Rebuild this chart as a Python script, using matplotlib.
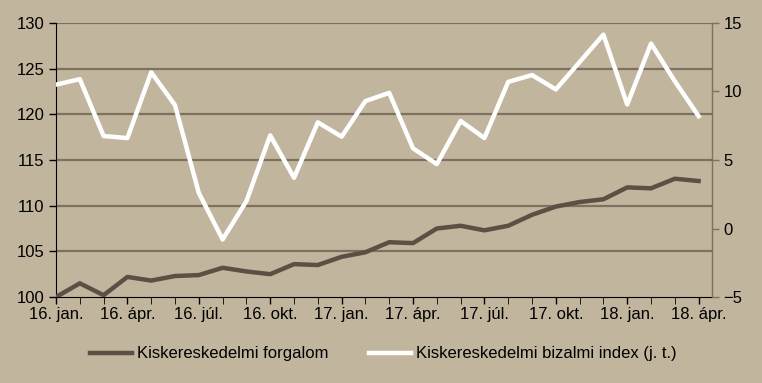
import matplotlib.pyplot as plt

plt.rcParams['font.family'] = ['Liberation Sans', 'DejaVu Sans']

months = ['jan.', 'febr.', 'márc.', 'ápr.', 'máj.', 'jún.', 'júl.', 'aug.', 'szept.', 'okt.', 'nov.', 'dec.']
periods = [f'{y}. {m}' for y in (16, 17, 18) for m in months][:28]

forgalom = [100.0, 101.5, 100.2, 102.2, 101.8, 102.3, 102.4, 103.2, 102.8, 102.5,
            103.6, 103.5, 104.4, 104.9, 106.0, 105.9, 107.5, 107.8, 107.3, 107.8,
            109.0, 109.9, 110.4, 110.7, 112.0, 111.9, 112.95, 112.7]
bizalmi = [10.5, 10.9, 6.75, 6.6, 11.4, 9.0, 2.6, -0.8, 2.0, 6.8,
           3.7, 7.75, 6.7, 9.3, 9.9, 5.85, 4.7, 7.85, 6.6, 10.7,
           11.2, 10.15, 12.15, 14.15, 9.05, 13.5, 10.75, 8.2]

bg = '#C2B59D'
brown = '#5E4F45'
grid_c = '#7D7262'

fig = plt.figure(figsize=(7.62, 3.83), dpi=100, facecolor=bg)
ax = fig.add_axes([0.0735, 0.2245, 0.8605, 0.7155], facecolor=bg)
ax2 = ax.twinx()

x = list(range(len(periods)))
l1, = ax.plot(x, forgalom, color=brown, lw=3.2, label='Kiskereskedelmi forgalom', zorder=3)
l2, = ax2.plot(x, bizalmi, color='white', lw=3.2, label='Kiskereskedelmi bizalmi index (j. t.)', zorder=3)

ax.set_xlim(0, 27.55)
ax.set_ylim(100, 130)
ax2.set_ylim(-5, 15)
ax.set_yticks(range(100, 131, 5))
ax2.set_yticks(range(-5, 16, 5))
ax.set_xticks(x, minor=True)
ax.set_xticks(x[::3])
ax.set_xticklabels(periods[::3])

for y in range(105, 131, 5):
    ax.axhline(y, color=grid_c, lw=1.6, zorder=1)

for a in (ax, ax2):
    a.spines['top'].set_visible(False)
    a.tick_params(labelcolor='#000000', labelsize=12, length=5, width=1)
ax.tick_params(axis='x', which='both', length=5, color='#000000', pad=2)
ax.tick_params(axis='y', color='#000000')
ax.spines['bottom'].set_color('#000000')
ax.spines['left'].set_color('#000000')
ax2.spines['right'].set_color(grid_c)
ax2.spines['left'].set_visible(False)
ax2.spines['bottom'].set_visible(False)
ax2.tick_params(axis='y', color=grid_c)

fig.legend([l1, l2], [l1.get_label(), l2.get_label()], loc='center', bbox_to_anchor=(0.503, 0.076),
           ncol=2, frameon=False, fontsize=12,
           handlelength=2.5, handletextpad=0.3, columnspacing=2.45)

fig.savefig('out.png', dpi=100, facecolor=bg)
